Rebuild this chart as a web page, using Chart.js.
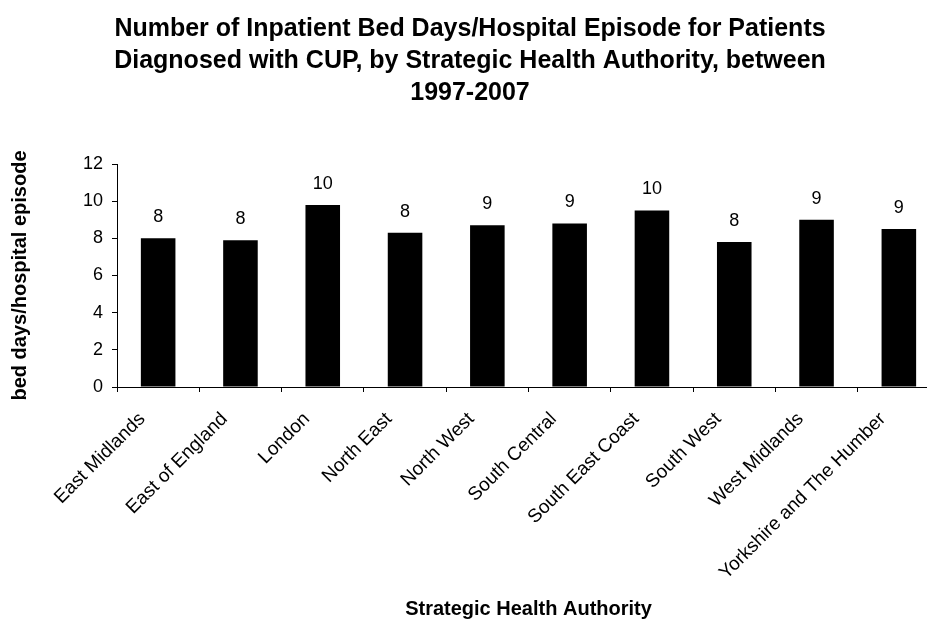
<!DOCTYPE html>
<html>
<head>
<meta charset="utf-8">
<script src="https://cdn.jsdelivr.net/npm/chart.js@4/dist/chart.umd.min.js"></script>
<style>
  html, body { margin: 0; padding: 0; background: #fff; overflow: hidden; }
  #wrap { width: 940px; height: 619px; }
</style>
</head>
<body>
<div id="wrap"><canvas id="chart"></canvas></div>
<script>
// data
const authorities = ['East Midlands', 'East of England', 'London', 'North East', 'North West',
  'South Central', 'South East Coast', 'South West', 'West Midlands', 'Yorkshire and The Humber'];
const bedDays = [8.0, 7.9, 9.8, 8.3, 8.7, 8.8, 9.5, 7.8, 9.0, 8.5];
const yTicks = [0, 2, 4, 6, 8, 10, 12];

const titleLines = [
  'Number of Inpatient Bed Days/Hospital Episode for Patients',
  'Diagnosed with CUP, by Strategic Health Authority, between',
  '1997-2007'
];

Chart.defaults.font.family = '"Liberation Sans", Arial, sans-serif';
Chart.defaults.color = '#000';

// rounded value printed above each bar
const barValues = {
  id: 'barValues',
  afterDatasetsDraw(chart) {
    const ctx = chart.ctx;
    const meta = chart.getDatasetMeta(0);
    ctx.save();
    ctx.font = '18px "Liberation Sans", Arial, sans-serif';
    ctx.fillStyle = '#000';
    ctx.textAlign = 'center';
    ctx.textBaseline = 'middle';
    meta.data.forEach((bar, i) => {
      ctx.fillText(String(Math.round(bedDays[i])), bar.x, bar.y - 21);
    });
    ctx.restore();
  }
};

new Chart(document.getElementById('chart'), {
  type: 'bar',
  data: {
    labels: authorities,
    datasets: [{
      data: bedDays,
      backgroundColor: '#000',
      borderWidth: 0,
      categoryPercentage: 1,
      barPercentage: 0.42
    }]
  },
  options: {
    responsive: true,
    maintainAspectRatio: false,
    animation: false,
    layout: { padding: 0 },
    plugins: {
      legend: { display: false },
      tooltip: { enabled: false },
      title: {
        display: true,
        text: titleLines,
        font: { size: 25, weight: 'bold', lineHeight: 1.28 },
        color: '#000',
        padding: { top: 13, bottom: 55 }
      }
    },
    scales: {
      x: {
        grid: { display: true, drawOnChartArea: false, drawTicks: true, tickLength: 5, color: '#000', offset: true },
        border: { color: '#000', width: 1 },
        ticks: { minRotation: 45, maxRotation: 45, autoSkip: false, padding: 16, labelOffset: -16, font: { size: 19 } },
        title: {
          display: true,
          text: 'Strategic Health Authority',
          font: { size: 20, weight: 'bold', lineHeight: 1 },
          padding: 0
        },
        afterFit: (s) => { s.height = 232; }
      },
      y: {
        min: 0,
        max: 12,
        afterBuildTicks: (s) => { s.ticks = yTicks.map(v => ({ value: v })); },
        grid: { display: true, drawOnChartArea: false, drawTicks: true, tickLength: 5, color: '#000' },
        border: { color: '#000', width: 1 },
        ticks: { padding: 9, font: { size: 18 } },
        title: {
          display: true,
          text: 'bed days/hospital episode',
          font: { size: 20, weight: 'bold' },
          padding: { top: 8, bottom: 0 }
        },
        afterFit: (s) => { s.width = 117; }
      }
    }
  },
  plugins: [barValues]
});
</script>
</body>
</html>
